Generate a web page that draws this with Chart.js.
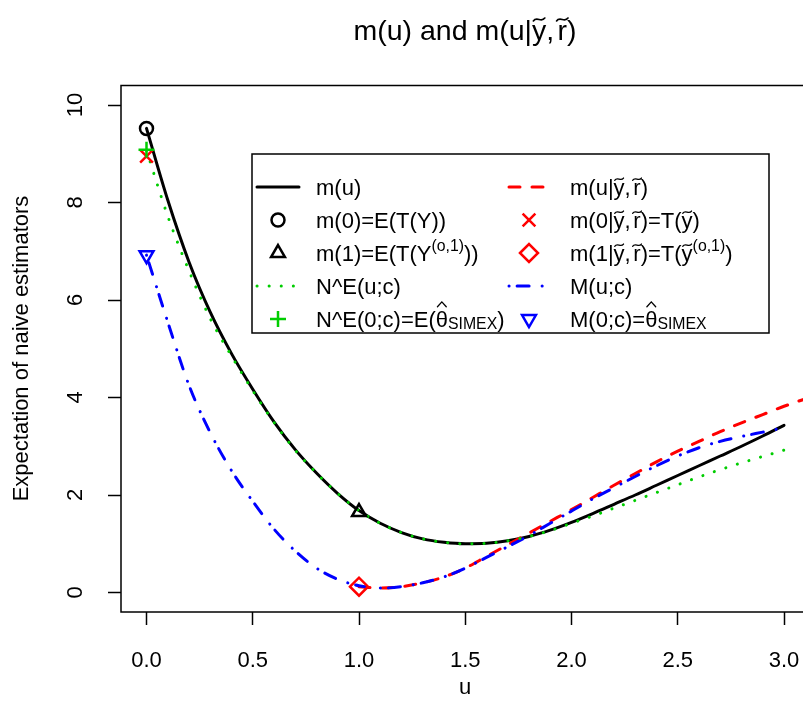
<!DOCTYPE html>
<html>
<head>
<meta charset="utf-8">
<script src="https://cdn.jsdelivr.net/npm/chart.js@4.4.0/dist/chart.umd.min.js"></script>
<style>
html, body { margin: 0; padding: 0; background: #ffffff; overflow: hidden; }
canvas { display: block; }
</style>
</head>
<body>
<canvas id="chart" width="830" height="723"></canvas>
<script>
const FONT = '"Liberation Sans", Arial, Helvetica, sans-serif';
const COLORS = {
    black: '#000000',
    red: '#ff0000',
    green: '#00cd00',
    blue: '#0000ff'
};

// grid of u values for the unconditional curves
const uGrid = [0.0, 0.1, 0.2, 0.3, 0.4, 0.5, 0.6, 0.7, 0.8, 0.9, 1.0,
               1.1, 1.2, 1.3, 1.4, 1.5, 1.6, 1.7, 1.8, 1.9, 2.0,
               2.1, 2.2, 2.3, 2.4, 2.5, 2.6, 2.7, 2.8, 2.9, 3.0];
// m(u)
const mU = [9.52, 8.05, 6.78, 5.75, 4.90, 4.17, 3.50, 2.93, 2.45, 2.03, 1.68,
            1.42, 1.23, 1.10, 1.03, 1.00, 1.01, 1.06, 1.15, 1.28, 1.44,
            1.62, 1.81, 2.00, 2.20, 2.40, 2.60, 2.80, 3.00, 3.21, 3.43];
// N^E(u;c)
const neU = [9.07, 7.72, 6.60, 5.62, 4.85, 4.14, 3.49, 2.92, 2.45, 2.03, 1.68,
             1.42, 1.23, 1.10, 1.03, 1.00, 1.01, 1.06, 1.15, 1.27, 1.42,
             1.57, 1.73, 1.89, 2.05, 2.21, 2.37, 2.52, 2.66, 2.79, 2.92];
// M(u;c)
const mcU = [6.92, 5.55, 4.25, 3.28, 2.50, 1.87, 1.30, 0.85, 0.50, 0.27, 0.14,
             0.09, 0.12, 0.20, 0.32, 0.50, 0.72, 0.94, 1.17, 1.42, 1.67,
             1.92, 2.15, 2.38, 2.60, 2.80, 2.97, 3.10, 3.20, 3.29, 3.38];

// conditional curve m(u|y~,r~), only for u >= 1
const uCond = [1.0, 1.1, 1.2, 1.3, 1.4, 1.5, 1.6, 1.7, 1.8, 1.9, 2.0,
               2.1, 2.2, 2.3, 2.4, 2.5, 2.6, 2.7, 2.8, 2.9, 3.0, 3.1, 3.2];
const mCond = [0.12, 0.09, 0.12, 0.20, 0.32, 0.50, 0.74, 0.98, 1.22, 1.46, 1.70,
               1.95, 2.20, 2.44, 2.68, 2.90, 3.10, 3.30, 3.48, 3.65, 3.82, 3.97, 4.10];

// single points
const m0 = [0, 9.52];       // m(0)=E(T(Y))
const m1 = [1, 1.65];       // m(1)=E(T(Y^(o,1)))
const mCond0 = [0, 8.95];   // m(0|y~,r~)=T(y~)
const mCond1 = [1, 0.12];   // m(1|y~,r~)=T(y~^(o,1))
const ne0 = [0, 9.08];      // N^E(0;c)
const mc0 = [0, 6.92];      // M(0;c)

const xTicks = [0, 0.5, 1, 1.5, 2, 2.5, 3];
const yTicks = [0, 2, 4, 6, 8, 10];

const toXY = (xs, ys) => xs.map((x, i) => ({ x: x, y: ys[i] }));

function curve(xs, ys, color, dash, width) {
    return {
        data: toXY(xs, ys),
        showLine: true,
        borderColor: color,
        borderWidth: width,
        borderDash: dash,
        borderCapStyle: 'round',
        borderJoinStyle: 'round',
        cubicInterpolationMode: 'monotone',
        pointRadius: 0
    };
}

function marker(pt, color, style, radius, rotation) {
    return {
        data: [{ x: pt[0], y: pt[1] }],
        showLine: false,
        pointStyle: style,
        pointRadius: radius,
        pointRotation: rotation || 0,
        pointBorderColor: color,
        pointBackgroundColor: 'rgba(0,0,0,0)',
        pointBorderWidth: 2.5
    };
}

const LINE_STYLES = {
    m:    { color: COLORS.black, dash: [], width: 3 },
    cond: { color: COLORS.red, dash: [11, 12], width: 3 },
    ne:   { color: COLORS.green, dash: [0.1, 12], width: 3 },
    mc:   { color: COLORS.blue, dash: [0.1, 8, 12, 13], width: 3 }
};
const POINT_STYLES = {
    m0:     { color: COLORS.black, style: 'circle', r: 6.5 },
    m1:     { color: COLORS.black, style: 'triangle', r: 8 },
    cond0:  { color: COLORS.red, style: 'crossRot', r: 9 },
    cond1:  { color: COLORS.red, style: 'rectRot', r: 9 },
    ne0:    { color: COLORS.green, style: 'cross', r: 8 },
    mc0:    { color: COLORS.blue, style: 'triangle', r: 8, rot: 180 }
};

// ---- rich text helpers (tilde / hat accents, super- and subscripts) ----
function partWidth(ctx, p, size) {
    if (typeof p === 'string') { ctx.font = size + 'px ' + FONT; return ctx.measureText(p).width; }
    if (p.gap) return p.gap * size;
    const s = (p.sup || p.sub) ? size * 0.72 : size;
    ctx.font = s + 'px ' + FONT;
    return ctx.measureText(p.t).width;
}

function drawRich(ctx, parts, x, y, size, align) {
    let total = 0;
    parts.forEach(p => { total += partWidth(ctx, p, size); });
    let cx = align === 'center' ? x - total / 2 : x;
    ctx.textAlign = 'left';
    ctx.textBaseline = 'alphabetic';
    parts.forEach(p => {
        const w = partWidth(ctx, p, size);
        if (typeof p === 'string') {
            ctx.font = size + 'px ' + FONT;
            ctx.fillText(p, cx, y);
        } else if (p.t) {
            const s = (p.sup || p.sub) ? size * 0.72 : size;
            const dy = p.sup ? -0.45 * size : (p.sub ? 0.1 * size : 0);
            ctx.font = s + 'px ' + FONT;
            ctx.fillText(p.t, cx, y + dy);
            if (p.acc) {
                ctx.save();
                ctx.lineWidth = size * 0.06;
                ctx.lineCap = 'round';
                const mid = cx + w / 2;
                ctx.beginPath();
                if (p.acc === 'tilde') {
                    const hw = size * 0.2, base = y - size * 0.72, a = size * 0.05;
                    ctx.moveTo(mid - hw, base + a);
                    ctx.bezierCurveTo(mid - hw * 0.4, base - a * 2.5, mid + hw * 0.4, base + a * 2.5, mid + hw, base - a);
                } else {
                    const hw = size * 0.2, base = y - size * 0.92;
                    ctx.moveTo(mid - hw, base);
                    ctx.lineTo(mid, base - size * 0.22);
                    ctx.lineTo(mid + hw, base);
                }
                ctx.stroke();
                ctx.restore();
            }
        }
        cx += w;
    });
}

const yT = { t: 'y', acc: 'tilde' };
const rT = { t: 'r', acc: 'tilde' };
const thetaHat = { t: '\u03b8', acc: 'hat' };
const simex = { t: 'SIMEX', sub: true };
const sup01 = { t: '(o,1)', sup: true };
const commaGap = { gap: 0.12 };

const titleParts = ['m(u) and m(u|', yT, ',', commaGap, rT, ')'];

const legendLeft = [
    { kind: 'line', key: 'm', text: ['m(u)'] },
    { kind: 'point', key: 'm0', text: ['m(0)=E(T(Y))'] },
    { kind: 'point', key: 'm1', text: ['m(1)=E(T(Y', sup01, '))'] },
    { kind: 'line', key: 'ne', text: ['N^E(u;c)'] },
    { kind: 'point', key: 'ne0', text: ['N^E(0;c)=E(', thetaHat, simex, ')'] }
];
const legendRight = [
    { kind: 'line', key: 'cond', text: ['m(u|', yT, ',', commaGap, rT, ')'] },
    { kind: 'point', key: 'cond0', text: ['m(0|', yT, ',', commaGap, rT, ')=T(', yT, ')'] },
    { kind: 'point', key: 'cond1', text: ['m(1|', yT, ',', commaGap, rT, ')=T(', yT, sup01, ')'] },
    { kind: 'line', key: 'mc', text: ['M(u;c)'] },
    { kind: 'point', key: 'mc0', text: ['M(0;c)=', thetaHat, simex] }
];

function drawMarker(ctx, st, x, y) {
    ctx.save();
    ctx.strokeStyle = st.color;
    ctx.fillStyle = 'rgba(0,0,0,0)';
    ctx.lineWidth = 2.5;
    Chart.helpers.drawPoint(ctx, { pointStyle: st.style, radius: st.r, rotation: st.rot || 0, borderWidth: 2.5 }, x, y);
    ctx.restore();
}

function drawLegend(ctx) {
    const box = { left: 252, top: 154, right: 769, bottom: 333 };
    ctx.save();
    ctx.strokeStyle = '#000';
    ctx.lineWidth = 1.5;
    ctx.strokeRect(box.left, box.top, box.right - box.left, box.bottom - box.top);
    const rows = [187, 220, 253, 286, 319];
    const cols = [
        { items: legendLeft, x0: 257, x1: 299, sym: 278, text: 316 },
        { items: legendRight, x0: 509, x1: 548, sym: 529, text: 570 }
    ];
    ctx.fillStyle = '#000';
    cols.forEach(col => {
        col.items.forEach((it, i) => {
            const y = rows[i];
            if (it.kind === 'line') {
                const ls = LINE_STYLES[it.key];
                ctx.save();
                ctx.strokeStyle = ls.color;
                ctx.lineWidth = ls.width;
                ctx.lineCap = 'round';
                ctx.setLineDash(ls.dash);
                ctx.beginPath();
                ctx.moveTo(col.x0, y);
                ctx.lineTo(col.x1, y);
                ctx.stroke();
                ctx.restore();
            } else {
                drawMarker(ctx, POINT_STYLES[it.key], col.sym, y);
            }
            ctx.fillStyle = '#000';
            drawRich(ctx, it.text, col.text, y + 8, 22, 'left');
        });
    });
    ctx.restore();
}

// box, title, axis titles and legend
const framePlugin = {
    id: 'frame',
    afterDraw(chart) {
        const ctx = chart.ctx;
        const a = chart.chartArea;
        ctx.save();
        ctx.strokeStyle = '#000';
        ctx.lineWidth = 1.5;
        ctx.strokeRect(a.left, a.top, a.right - a.left, a.bottom - a.top);

        ctx.fillStyle = '#000';
        drawRich(ctx, titleParts, 465, 40, 28.5, 'center');

        ctx.font = '22px ' + FONT;
        ctx.textAlign = 'center';
        ctx.textBaseline = 'middle';
        ctx.fillText('u', 465, 688);

        ctx.save();
        ctx.translate(22, 348.5);
        ctx.rotate(-Math.PI / 2);
        ctx.fillText('Expectation of naive estimators', 0, 0);
        ctx.restore();

        drawLegend(ctx);
        ctx.restore();
    }
};

const ps = POINT_STYLES;
const ls = LINE_STYLES;

new Chart(document.getElementById('chart'), {
    type: 'scatter',
    data: {
        datasets: [
            marker(m0, ps.m0.color, ps.m0.style, ps.m0.r),
            marker(m1, ps.m1.color, ps.m1.style, ps.m1.r),
            marker(ne0, ps.ne0.color, ps.ne0.style, ps.ne0.r),
            marker(mCond0, ps.cond0.color, ps.cond0.style, ps.cond0.r),
            marker(mCond1, ps.cond1.color, ps.cond1.style, ps.cond1.r),
            marker(mc0, ps.mc0.color, ps.mc0.style, ps.mc0.r, ps.mc0.rot),
            curve(uGrid, neU, ls.ne.color, ls.ne.dash, ls.ne.width),
            curve(uGrid, mcU, ls.mc.color, ls.mc.dash, ls.mc.width),
            curve(uCond, mCond, ls.cond.color, ls.cond.dash, ls.cond.width),
            curve(uGrid, mU, ls.m.color, ls.m.dash, ls.m.width)
        ]
    },
    options: {
        responsive: false,
        animation: false,
        events: [],
        layout: { padding: { top: 85.5, right: 20.5, bottom: 0, left: 0 } },
        plugins: {
            legend: { display: false },
            tooltip: { enabled: false }
        },
        scales: {
            x: {
                type: 'linear',
                min: -0.12,
                max: 3.12,
                afterBuildTicks: s => { s.ticks = xTicks.map(v => ({ value: v })); },
                afterFit: s => { s.height = 111; },
                border: { display: false },
                grid: { drawOnChartArea: false, drawTicks: true, tickLength: 13, tickColor: '#000', tickWidth: 1.5 },
                ticks: {
                    color: '#000',
                    font: { family: FONT, size: 22 },
                    padding: 23,
                    maxRotation: 0,
                    autoSkip: false,
                    callback: v => Number(v).toFixed(1)
                }
            },
            y: {
                type: 'linear',
                min: -0.4,
                max: 10.4,
                afterBuildTicks: s => { s.ticks = yTicks.map(v => ({ value: v })); },
                afterFit: s => { s.width = 121; },
                border: { display: false },
                grid: { drawOnChartArea: false, drawTicks: true, tickLength: 13, tickColor: '#000', tickWidth: 1.5 },
                ticks: {
                    color: '#000',
                    font: { family: FONT, size: 22 },
                    padding: 20,
                    minRotation: 90,
                    maxRotation: 90,
                    crossAlign: 'center',
                    autoSkip: false,
                    callback: v => String(v)
                }
            }
        }
    },
    plugins: [framePlugin]
});
</script>
</body>
</html>
